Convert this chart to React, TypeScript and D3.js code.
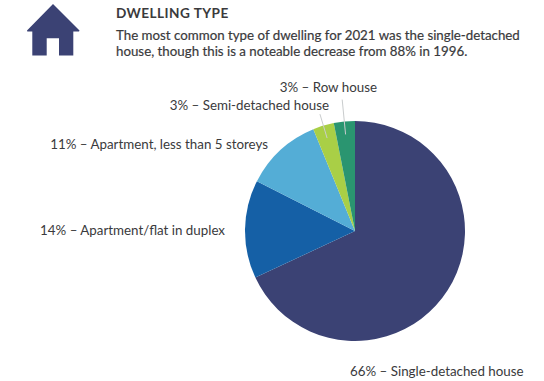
import React from "react";
import * as d3 from "d3";

const categories = [
  "Single-detached house",
  "Apartment/flat in duplex",
  "Apartment, less than 5 storeys",
  "Semi-detached house",
  "Row house",
];
const shares = [66, 14, 11, 3, 3];
const colors = ["#3b4274", "#1560a6", "#54add6", "#a9cf46", "#2a9570"];
const titleLines = ["DWELLING TYPE"];
const bodyLines = [
  "The most common type of dwelling for 2021 was the single-detached",
  "house, though this is a noteable decrease from 88% in 1996.",
];
const housePath = "M53 4 L79.5 30.5 L79 31.5 L73.3 31.5 L73.3 55.5 L59 55.5 L59 38.3 L46.7 38.3 L46.7 55.5 L32.3 55.5 L32.3 31.5 L27.3 31.5 L27 30.5 Z";

const cx = 355;
const cy = 231;
const radius = 110;
const font = "Lato, sans-serif";
const ink = "#3a3a3c";

// Label placement per slice: text anchor point and outer reach of its leader, if any.
const labelX = [350, 225, 268, 329, 377];
const labelY = [375.5, 235, 149, 110, 91.5];
const labelAnchor = ["start", "end", "end", "end", "end"];
const leaderOuter = [0, 0, 0, 122, 132];

const pie = d3.pie<number>().sort(null).value((d) => d);
const arc = d3.arc<d3.PieArcDatum<number>>().innerRadius(0).outerRadius(radius);

export default function App() {
  const slices = pie(shares);
  return (
    <svg
      width={544}
      height={381}
      viewBox="0 0 544 381"
      style={{ position: "absolute", left: 0, top: 0, background: "#fff" }}
    >
      <path d={housePath} fill="#3b4274" />
      {titleLines.map((t) => (
        <text key={t} x={116} y={18} fontFamily={font} fontSize={13.6} fontWeight={700} fill={ink} letterSpacing={0.45}>
          {t}
        </text>
      ))}
      {bodyLines.map((t, i) => (
        <text
          key={t}
          x={116}
          y={39.5 + i * 16.3}
          fontFamily={font}
          fontSize={13.3}
          fill={ink}
          stroke={ink}
          strokeWidth={0.2}
        >
          {t}
        </text>
      ))}
      <g transform={`translate(${cx},${cy})`}>
        {slices.map((s, i) => (
          <path key={categories[i]} d={arc(s) ?? ""} fill={colors[i]} />
        ))}
        {slices.map((s, i) => {
          if (!leaderOuter[i]) return null;
          const mid = (s.startAngle + s.endAngle) / 2;
          const sin = Math.sin(mid);
          const cos = -Math.cos(mid);
          return (
            <line
              key={categories[i]}
              x1={sin * leaderOuter[i]}
              y1={cos * leaderOuter[i]}
              x2={sin * 97}
              y2={cos * 97}
              stroke="#c9cccd"
              strokeWidth={1}
            />
          );
        })}
      </g>
      {categories.map((c, i) => (
        <text
          key={c}
          x={labelX[i]}
          y={labelY[i]}
          textAnchor={labelAnchor[i] as "start" | "end"}
          fontFamily={font}
          fontSize={13.35}
          fill={ink}
        >
          {`${shares[i]}% – ${c}`}
        </text>
      ))}
    </svg>
  );
}
